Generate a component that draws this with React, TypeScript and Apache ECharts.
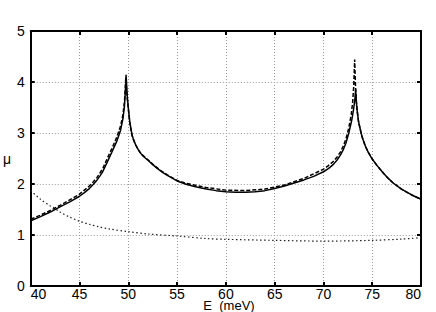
import React, { useEffect, useRef } from "react";
import * as echarts from "echarts";

const xTicks = [40, 45, 50, 55, 60, 65, 70, 75, 80];
const yTicks = [0, 1, 2, 3, 4, 5];

const solidX = [40, 41, 42, 43, 44, 45, 45.5, 46, 46.4, 46.8, 47.1, 47.4, 47.84, 48.3, 48.8, 49.2, 49.45, 49.6, 49.7, 49.77, 49.9, 50.05, 50.15, 50.3, 50.4, 50.55, 50.75, 51, 51.2, 51.5, 51.8, 52.1, 52.5, 53, 53.5, 54, 55, 56, 57, 58, 59, 60, 61, 62, 63, 64, 65, 66, 67, 68, 69, 70, 70.5, 71, 71.4, 71.75, 72.05, 72.3, 72.6, 72.9, 73.1, 73.22, 73.3, 73.38, 73.45, 73.6, 73.86, 74.0, 74.3, 74.6, 75, 75.5, 76.2, 76.7, 77.15, 78, 79, 80];
const solidY = [1.28, 1.36, 1.45, 1.55, 1.65, 1.76, 1.83, 1.91, 1.99, 2.08, 2.16, 2.25, 2.43, 2.62, 2.83, 3.05, 3.28, 3.52, 3.82, 4.14, 3.70, 3.40, 3.22, 3.05, 2.95, 2.86, 2.77, 2.68, 2.62, 2.55, 2.50, 2.45, 2.38, 2.30, 2.23, 2.17, 2.06, 1.99, 1.94, 1.90, 1.87, 1.85, 1.84, 1.84, 1.85, 1.87, 1.91, 1.96, 2.02, 2.08, 2.15, 2.24, 2.30, 2.38, 2.47, 2.57, 2.68, 2.80, 3.00, 3.25, 3.48, 3.66, 3.85, 3.60, 3.45, 3.22, 3.00, 2.90, 2.74, 2.62, 2.49, 2.36, 2.20, 2.10, 2.02, 1.90, 1.79, 1.70];

const dashedX = [40, 41, 42, 43, 44, 45, 45.5, 46, 46.4, 46.8, 47.1, 47.4, 47.84, 48.3, 48.8, 49.2, 49.45, 49.6, 49.68, 49.74, 49.88, 50.05, 50.15, 50.3, 50.4, 50.55, 50.75, 51, 51.2, 51.5, 51.8, 52.1, 52.5, 53, 53.5, 54, 55, 56, 58, 60, 62, 64, 66, 68, 70, 70.5, 71, 71.4, 71.75, 72.05, 72.3, 72.6, 72.85, 73.0, 73.1, 73.2, 73.28, 73.38, 73.45, 73.6, 73.86, 74.0, 74.3, 74.6, 75, 75.5, 76.2, 76.7, 77.15, 78, 79, 80];
const dashedY = [1.31, 1.39, 1.48, 1.58, 1.69, 1.80, 1.88, 1.96, 2.04, 2.13, 2.22, 2.31, 2.50, 2.69, 2.91, 3.13, 3.36, 3.60, 3.85, 4.08, 3.70, 3.38, 3.20, 3.03, 2.94, 2.86, 2.77, 2.68, 2.62, 2.56, 2.51, 2.46, 2.39, 2.31, 2.24, 2.18, 2.07, 2.01, 1.93, 1.88, 1.87, 1.90, 1.98, 2.11, 2.29, 2.36, 2.44, 2.53, 2.63, 2.75, 2.88, 3.10, 3.36, 3.62, 3.90, 4.44, 3.95, 3.60, 3.45, 3.22, 3.00, 2.90, 2.74, 2.62, 2.49, 2.36, 2.20, 2.10, 2.02, 1.90, 1.79, 1.70];

const dottedX = [40, 41, 42, 42.4, 43, 44, 45, 46, 47, 48, 50, 52, 55, 58, 60, 65, 70, 75, 78, 80];
const dottedY = [1.87, 1.70, 1.57, 1.53, 1.45, 1.35, 1.27, 1.21, 1.16, 1.12, 1.065, 1.02, 0.98, 0.93, 0.915, 0.895, 0.88, 0.895, 0.92, 0.947];

const zip = (xs: number[], ys: number[]) => xs.map((x, i) => [x, ys[i]]);

const FONT = "Liberation Sans";

export default function App() {
  const ref = useRef<HTMLDivElement>(null);
  useEffect(() => {
    if (!ref.current) return;
    const chart = echarts.init(ref.current, undefined, { renderer: "svg" });
    const gridLine = { show: true, lineStyle: { color: "#999", type: [1, 2] as any, width: 1 } };
    const axisLine = { show: true, onZero: false, lineStyle: { color: "#000", width: 2 } };
    const tick = { show: true, inside: true, length: 4, lineStyle: { color: "#000", width: 2 } };
    const label = { color: "#000", fontSize: 14, fontFamily: FONT };
    chart.setOption({
      animation: false,
      backgroundColor: "#fff",
      grid: { left: 28, right: 15, top: 31, bottom: 26, containLabel: false },
      xAxis: [
        {
          type: "value", min: 40, max: 80, interval: 5, position: "bottom",
          axisLine, axisTick: tick, splitLine: gridLine,
          axisLabel: { ...label, margin: 1, alignMinLabel: "left", alignMaxLabel: "right",
            formatter: (v: number) => (xTicks.includes(v) ? String(v) : "") },
        },
        {
          type: "value", min: 40, max: 80, interval: 5, position: "top",
          axisLine, axisTick: tick, splitLine: { show: false }, axisLabel: { show: false },
        },
      ],
      yAxis: [
        {
          type: "value", min: 0, max: 5, interval: 1, position: "left",
          axisLine, axisTick: tick, splitLine: gridLine,
          axisLabel: { ...label, margin: 6,
            formatter: (v: number) => (yTicks.includes(v) ? String(v) : "") },
          name: "μ", nameLocation: "middle", nameRotate: 0, nameGap: 11,
          nameTextStyle: { color: "#000", fontSize: 14, fontFamily: FONT },
        },
        {
          type: "value", min: 0, max: 5, interval: 1, position: "right",
          axisLine, axisTick: tick, splitLine: { show: false }, axisLabel: { show: false },
        },
      ],
      graphic: [
        {
          type: "text", x: 229, y: 305,
          style: { text: "E  (meV)", fill: "#000", fontSize: 13, fontFamily: FONT, align: "center", verticalAlign: "middle" },
        },
      ],
      series: [
        {
          type: "line", data: zip(dottedX, dottedY), showSymbol: false, smooth: 0.3,
          lineStyle: { color: "#222", width: 1.2, type: [1.5, 2.5] },
        },
        {
          type: "line", data: zip(dashedX, dashedY), showSymbol: false, smooth: false,
          lineStyle: { color: "#000", width: 1.5, type: [4, 2] },
        },
        {
          type: "line", data: zip(solidX, solidY), showSymbol: false, smooth: false,
          lineStyle: { color: "#000", width: 1.5 },
        },
      ],
    });
    return () => chart.dispose();
  }, []);
  return <div ref={ref} style={{ position: "fixed", left: 0, top: 0, width: 436, height: 312 }} />;
}
